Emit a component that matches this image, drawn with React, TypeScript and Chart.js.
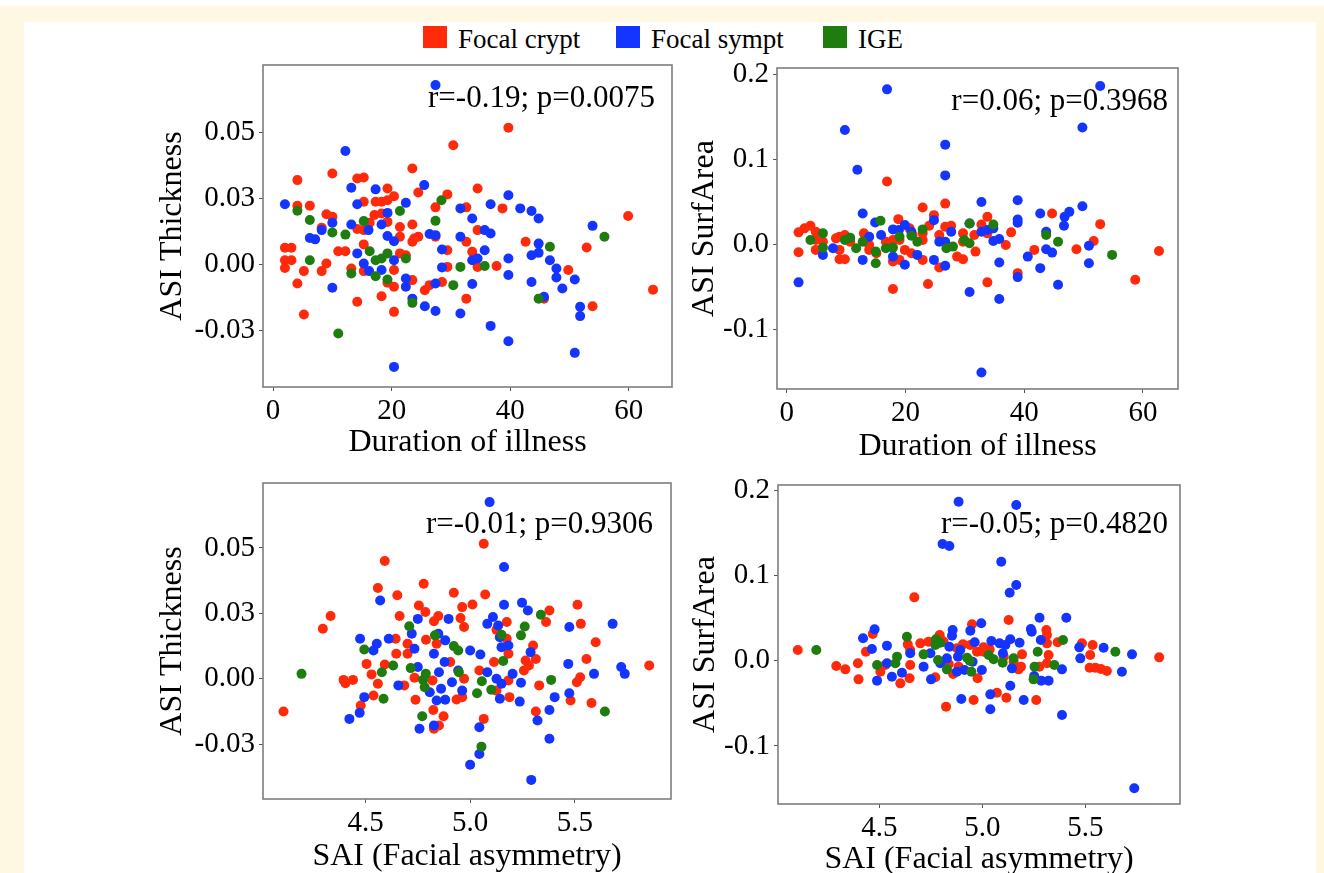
import React, { useEffect, useRef } from 'react';
import { Chart, registerables } from 'chart.js';

Chart.register(...registerables);

type Pt = [number, number];

const SERIES_NAMES = ['Focal crypt', 'Focal sympt', 'IGE'];
const SERIES_COLORS = ['#ff2a0a', '#1434ff', '#1f7d10'];
const FONT = "'Liberation Serif', 'Times New Roman', Times, serif";

// ---------- Panel 1: Duration of illness vs ASI Thickness ----------
const P1_CRYPT: Pt[] = [
  [39.7, 0.0517], [30.4, 0.0451], [23.5, 0.0363], [10.0, 0.0344], [4.1, 0.0319], [14.2, 0.0325], [15.3, 0.0329],
  [19.3, 0.0287], [24.5, 0.0272], [34.5, 0.0287], [29.4, 0.0265], [17.3, 0.0237], [18.3, 0.0237], [15.3, 0.0237],
  [20.4, 0.0258], [19.3, 0.0243], [27.4, 0.0216], [32.6, 0.0216], [38.7, 0.0212], [4.1, 0.0222], [6.2, 0.0222],
  [9.0, 0.019], [10.0, 0.018], [18.3, 0.0193], [19.3, 0.0161], [16.3, 0.0158], [21.4, 0.0142], [23.5, 0.0151],
  [8.2, 0.0139], [14.2, 0.0134], [15.3, 0.013], [21.4, 0.0105], [23.5, 0.0086], [24.5, 0.0105], [23.8, 0.0098],
  [27.4, 0.0105], [32.6, 0.0086], [33.6, 0.0048], [34.5, 0.013], [42.6, 0.0086], [52.9, 0.0064], [59.9, 0.0183],
  [64.1, -0.0095], [15.3, 0.0076], [11.0, 0.005], [12.2, 0.005], [2.0, 0.0063], [3.1, 0.0063], [2.0, 0.0016],
  [3.1, 0.0016], [2.0, -0.0013], [5.2, -0.0025], [8.2, -0.0025], [9.0, 0.0004], [4.1, -0.0072], [5.2, -0.0189],
  [13.2, -0.0015], [14.2, -0.0141], [15.3, -0.0025], [18.3, -0.012], [19.3, -0.0069], [20.4, -0.0021],
  [20.4, -0.0084], [20.4, -0.0179], [21.4, 0.0042], [22.4, 0.0035], [23.5, -0.0059], [25.6, -0.0097],
  [26.4, -0.0078], [28.5, -0.0066], [29.4, -0.0009], [29.4, 0.0054], [32.6, -0.0129], [34.5, -0.0009],
  [37.7, -0.0006], [45.7, -0.0129], [49.8, -0.0021], [53.9, -0.0158], [17.1, 0.0187],
];
const P1_SYMPT: Pt[] = [
  [27.4, 0.0678], [12.2, 0.0429], [2.0, 0.0228], [13.2, 0.029], [14.2, 0.0228], [17.3, 0.0284], [25.5, 0.030],
  [22.4, 0.0233], [19.3, 0.0195], [10.0, 0.0158], [8.2, 0.013], [6.2, 0.010], [7.1, 0.0095], [13.2, 0.0151],
  [16.1, 0.013], [18.3, 0.0151], [19.3, 0.0108], [20.4, 0.0088], [14.2, 0.0042], [15.3, 0.0004], [16.2, -0.0025],
  [18.3, -0.0021], [20.4, 0.0016], [22.4, -0.0053], [22.4, -0.0084], [23.5, -0.0129], [25.6, -0.0158],
  [27.4, -0.0176], [26.4, 0.0115], [27.4, 0.0111], [28.5, 0.0057], [28.5, -0.0011], [27.4, -0.0072],
  [31.6, 0.0212], [31.6, 0.0105], [31.6, -0.0185], [33.6, 0.0174], [33.6, 0.0016], [34.5, 0.0023],
  [33.6, -0.0074], [35.7, 0.013], [36.7, 0.0117], [35.7, 0.0054], [36.7, 0.0228], [36.7, -0.0232],
  [39.7, 0.0262], [39.7, 0.0023], [39.7, -0.004], [39.7, -0.029], [41.7, 0.0212], [43.6, 0.0202],
  [44.8, 0.0174], [43.6, 0.0035], [44.8, 0.0044], [44.8, 0.0079], [43.6, -0.0066], [45.7, -0.0122],
  [46.7, 0.0016], [47.8, -0.0015], [47.8, -0.0049], [48.8, -0.0091], [50.9, -0.0057], [51.8, -0.016],
  [51.8, -0.0195], [50.9, -0.0334], [53.9, 0.0146], [20.4, -0.0387], [10.0, -0.0088],
];
const P1_IGE: Pt[] = [
  [28.4, 0.0243], [4.1, 0.0203], [6.2, 0.0168], [21.4, 0.0202], [15.3, 0.0164], [27.4, 0.0165], [10.0, 0.0121],
  [12.2, 0.0113], [55.9, 0.0105], [46.7, 0.0067], [16.3, 0.005], [17.3, 0.0016], [18.3, 0.0023], [19.3, 0.0042],
  [22.4, 0.0023], [6.2, 0.0016], [13.2, -0.0034], [17.3, -0.0044], [19.3, -0.0057], [31.6, -0.0009],
  [35.7, -0.0006], [30.4, -0.0078], [23.5, -0.0145], [44.8, -0.0129], [11.0, -0.0261],
];

// ---------- Panel 2: Duration of illness vs ASI SurfArea ----------
const P2_CRYPT: Pt[] = [
  [16.9, 0.0742], [26.7, 0.048], [22.9, 0.0434], [44.7, 0.0363], [24.8, 0.0344], [33.8, 0.0324], [18.8, 0.0297],
  [52.8, 0.0238], [26.7, 0.0207], [27.7, 0.0219], [24.0, 0.0219], [32.8, 0.0234], [2.0, 0.0141], [3.0, 0.0188],
  [4.0, 0.0219], [4.9, 0.0148], [8.9, 0.009], [9.8, 0.0109], [13.0, 0.0129], [20.7, 0.0188], [22.9, 0.0129],
  [29.7, 0.0129], [37.8, 0.0141], [31.6, 0.0109], [33.8, 0.0129], [4.9, 0.0051], [6.1, 0.0031], [8.3, 0.007],
  [10.7, 0.0031], [13.9, -0.0008], [16.7, 0.0031], [19.0, 0.0051], [21.2, 0.0109], [22.9, 0.0051], [25.7, 0.0109],
  [29.7, 0.0031], [36.9, -0.0008], [51.7, 0.0039], [48.8, -0.0059], [41.7, -0.0066], [62.7, -0.0078],
  [2.0, -0.0094], [4.9, -0.0066], [8.9, -0.0066], [8.9, -0.0176], [9.8, -0.0176], [13.9, -0.0066],
  [15.1, -0.0105], [17.9, -0.0203], [19.0, -0.0184], [19.9, -0.0066], [21.0, -0.0105], [22.9, -0.0184],
  [25.7, -0.0273], [28.7, -0.0145], [29.7, -0.0176], [31.8, -0.0086], [38.9, -0.034], [33.8, -0.0449],
  [23.8, -0.0469], [17.9, -0.0527], [58.7, -0.0418], [17.9, 0.0051],
];
const P2_SYMPT: Pt[] = [
  [52.8, 0.1867], [16.9, 0.1828], [9.8, 0.1348], [49.8, 0.1379], [26.7, 0.1176], [11.9, 0.0879], [26.7, 0.0813],
  [32.8, 0.05], [38.9, 0.052], [49.8, 0.0449], [12.8, 0.0363], [42.7, 0.0363], [47.6, 0.0383], [46.8, 0.0324],
  [46.7, 0.0219], [38.9, 0.0293], [38.9, 0.0254], [24.8, 0.0285], [14.9, 0.0258], [13.9, 0.009], [15.9, 0.0109],
  [17.9, 0.0176], [18.9, 0.0168], [19.9, 0.0227], [21.0, 0.0148], [30.8, 0.0246], [32.8, 0.0148], [33.8, 0.0168],
  [34.8, 0.0188], [34.8, 0.0039], [35.8, 0.0063], [43.7, 0.0148], [27.7, 0.0148], [25.7, 0.0031], [26.7, 0.0031],
  [43.7, -0.0059], [44.7, -0.0098], [50.9, -0.0016], [40.6, -0.0145], [6.1, -0.0125], [7.8, -0.0047],
  [17.9, -0.0145], [19.9, -0.0242], [22.0, -0.0125], [12.8, -0.0184], [24.8, -0.0184], [26.7, -0.0254],
  [35.8, -0.0215], [42.7, -0.0281], [50.9, -0.0223], [38.9, -0.0387], [2.0, -0.0449], [45.7, -0.0477],
  [30.8, -0.0563], [35.8, -0.0645], [32.8, -0.1512],
];
const P2_IGE: Pt[] = [
  [34.8, 0.0234], [30.8, 0.0246], [15.8, 0.0277], [22.9, 0.0176], [6.1, 0.0129], [10.7, 0.0078], [9.8, 0.0051],
  [4.0, 0.0051], [12.8, 0.0031], [21.0, 0.0102], [22.0, 0.0031], [43.7, 0.0109], [45.7, 0.0031], [30.8, 0.0012],
  [29.9, 0.0051], [6.1, -0.0039], [11.7, -0.0047], [15.0, -0.0086], [16.7, -0.0047], [17.9, -0.0039],
  [19.0, 0.009], [26.9, -0.0047], [28.0, -0.0027], [15.0, -0.0223], [54.8, -0.0125],
];

// ---------- Panel 3: SAI vs ASI Thickness ----------
const P3_CRYPT: Pt[] = [
  [5.065, 0.0516], [4.592, 0.045], [4.559, 0.0347], [4.778, 0.0363], [4.652, 0.0319], [4.922, 0.0329],
  [5.072, 0.0322], [4.333, 0.024], [4.296, 0.0191], [4.755, 0.028], [4.786, 0.0255], [4.962, 0.0274],
  [5.011, 0.0284], [5.379, 0.0261], [5.513, 0.0283], [4.663, 0.024], [4.827, 0.022], [4.848, 0.024],
  [4.954, 0.0232], [5.363, 0.0217], [5.529, 0.021], [4.971, 0.0198], [5.175, 0.0217], [5.126, 0.0187],
  [4.644, 0.0153], [4.701, 0.0134], [4.789, 0.0149], [4.840, 0.0134], [5.175, 0.0153], [5.301, 0.0127],
  [5.600, 0.014], [5.556, 0.0076], [5.856, 0.0051], [4.647, 0.0096], [4.701, 0.0096], [4.505, 0.0057],
  [4.592, 0.0055], [4.529, 0.0017], [4.559, -0.0019], [4.905, 0.0064], [5.044, 0.0032], [5.114, 0.0064],
  [5.183, 0.0096], [5.265, 0.007], [5.314, 0.0076], [5.257, 0.0032], [5.281, 0.0051], [5.526, 0.0006],
  [5.510, -0.0013], [5.330, -0.0025], [5.183, -0.0006], [4.971, 0.0], [4.395, -0.0004], [4.440, -0.0004],
  [4.404, -0.0017], [4.685, -0.0025], [4.734, 0.0004], [4.820, -0.0006], [4.935, -0.0079], [4.962, -0.007],
  [4.538, -0.0064], [4.739, -0.008], [5.188, -0.007], [5.480, -0.0083], [5.580, -0.0092], [4.108, -0.0125],
  [4.477, -0.0102], [4.824, -0.0119], [4.873, -0.0143], [4.851, -0.0178], [4.827, -0.0191], [5.065, -0.0153],
  [5.314, -0.0125], [5.126, -0.0045],
];
const P3_SYMPT: Pt[] = [
  [5.093, 0.0675], [5.162, 0.0427], [4.570, 0.0299], [5.162, 0.0283], [5.248, 0.0291], [5.276, 0.0261],
  [4.750, 0.0229], [5.109, 0.0236], [5.082, 0.021], [5.134, 0.0204], [4.721, 0.0172], [4.474, 0.0153],
  [4.554, 0.0134], [4.538, 0.0108], [4.611, 0.0153], [4.734, 0.0115], [4.827, 0.0096], [4.881, 0.0147],
  [4.897, 0.0229], [4.848, 0.0172], [5.0, 0.0108], [5.049, 0.0093], [5.150, 0.0121], [5.183, 0.0127],
  [5.142, 0.0159], [5.289, 0.0102], [5.469, 0.0057], [5.681, 0.021], [5.474, 0.0198], [5.592, 0.0019],
  [5.722, 0.0045], [5.739, 0.0019], [4.750, 0.0045], [4.878, 0.0064], [4.851, 0.0025], [4.913, -0.0013],
  [4.943, 0.0032], [4.962, -0.0045], [5.082, 0.0025], [5.126, 0.0], [5.150, -0.0019], [5.203, 0.0019],
  [5.243, -0.0015], [4.657, -0.0025], [4.807, -0.0051], [4.861, -0.0038], [4.840, -0.0083], [4.881, -0.008],
  [4.494, -0.007], [4.472, -0.013], [4.423, -0.0153], [5.142, -0.0076], [5.237, -0.0087], [5.404, -0.007],
  [5.379, -0.0119], [5.474, -0.0055], [5.322, -0.0159], [5.379, -0.0229], [5.044, -0.0185], [4.827, -0.0178],
  [4.758, -0.0191], [5.044, -0.0287], [5.0, -0.0328], [5.292, -0.0386],
];
const P3_IGE: Pt[] = [
  [5.338, 0.0245], [4.709, 0.0201], [5.261, 0.02], [5.243, 0.0166], [5.150, 0.0168], [4.832, 0.0166],
  [4.494, 0.0112], [4.922, 0.0125], [4.943, 0.0108], [5.158, 0.0068], [4.632, 0.0051], [4.716, 0.0041],
  [4.578, 0.0025], [4.194, 0.0019], [4.946, 0.0025], [4.788, 0.0019], [4.775, -0.0004], [4.783, -0.0032],
  [5.056, -0.0009], [5.033, -0.0055], [5.101, -0.0042], [5.387, -0.0004], [4.586, -0.0076], [4.771, -0.0143],
  [5.644, -0.0125], [5.054, -0.0259],
];

// ---------- Panel 4: SAI vs ASI SurfArea ----------
const P4_CRYPT: Pt[] = [
  [4.670, 0.0742], [5.128, 0.0477], [4.950, 0.0426], [4.468, 0.0313], [4.793, 0.0301], [5.311, 0.0359],
  [5.314, 0.0301], [4.699, 0.0203], [4.739, 0.0223], [4.801, 0.0242], [4.812, 0.0223], [4.906, 0.0191],
  [4.942, 0.0184], [5.366, 0.0215], [5.314, 0.0203], [4.638, 0.0191], [5.484, 0.0203], [5.536, 0.0184],
  [4.104, 0.0125], [4.435, 0.0105], [4.650, 0.0125], [5.006, 0.0156], [5.036, 0.0133], [4.974, 0.0105],
  [4.877, 0.0145], [5.524, 0.0066], [5.859, 0.0039], [5.322, 0.0066], [5.193, 0.0074], [5.104, 0.0047],
  [4.291, -0.0063], [4.335, -0.0102], [4.396, -0.0031], [4.399, -0.0219], [4.505, -0.0129], [4.529, -0.0051],
  [4.602, -0.0266], [4.647, -0.0207], [4.650, -0.0051], [4.772, -0.0195], [4.885, -0.007], [4.837, -0.0039],
  [4.858, -0.0156], [4.977, -0.0207], [5.188, -0.007], [5.152, -0.0012], [5.176, -0.0102], [5.277, -0.007],
  [5.314, -0.0031], [5.521, -0.0082], [5.549, -0.0082], [5.576, -0.0098], [5.605, -0.0121], [5.071, -0.0375],
  [5.117, -0.0434], [4.958, -0.0461], [5.262, -0.0461], [4.824, -0.0539], [5.006, 0.0105],
];
const P4_SYMPT: Pt[] = [
  [4.885, 0.1863], [5.165, 0.1824], [4.807, 0.1367], [4.840, 0.1344], [5.092, 0.116], [5.165, 0.0887],
  [5.133, 0.0797], [5.278, 0.0504], [5.408, 0.0504], [4.995, 0.0438], [4.477, 0.0367], [4.421, 0.0262],
  [4.464, 0.0137], [4.537, 0.0176], [4.856, 0.0359], [4.942, 0.0352], [4.853, 0.0293], [5.236, 0.0371],
  [5.24, 0.034], [5.284, 0.0242], [5.044, 0.023], [5.084, 0.0203], [5.112, 0.0184], [5.136, 0.025],
  [5.181, 0.0211], [4.963, 0.0215], [4.840, 0.0164], [4.893, 0.0125], [4.650, 0.0086], [4.748, 0.0086],
  [4.882, 0.0047], [5.100, 0.0086], [5.471, 0.0156], [5.589, 0.0152], [5.727, 0.0074], [5.476, 0.0027],
  [4.537, -0.0031], [4.715, -0.007], [4.796, -0.0031], [4.828, 0.0027], [4.953, -0.0012], [5.144, -0.009],
  [4.998, -0.0109], [5.387, -0.0102], [5.678, -0.0129], [4.561, -0.0188], [4.610, -0.0141], [4.489, -0.0234],
  [4.751, -0.0219], [4.877, -0.0129], [4.914, -0.0109], [5.252, -0.018], [5.286, -0.0234], [5.322, -0.0234],
  [5.136, -0.0293], [5.039, -0.0395], [4.898, -0.0449], [5.201, -0.0461], [5.039, -0.057], [5.387, -0.0637],
  [5.738, -0.1496],
];
const P4_IGE: Pt[] = [
  [5.392, 0.0242], [4.634, 0.0281], [4.775, 0.025], [4.772, 0.0184], [5.646, 0.0105], [5.269, 0.0105],
  [4.194, 0.0125], [4.715, 0.0074], [4.586, 0.0047], [4.578, -0.0031], [4.489, -0.0051], [4.785, 0.0008],
  [4.926, 0.0035], [4.939, 0.0], [5.031, 0.0066], [5.055, 0.0016], [5.099, -0.0023], [5.152, 0.0027],
  [5.350, -0.0051], [5.254, -0.007], [4.828, -0.0102], [4.947, -0.0129], [5.249, -0.0219], [4.796, 0.0211],
];

// ---------- Axis ticks, labels, titles and annotations ----------
const X_TICKS_DURATION = [0, 20, 40, 60];
const X_LABELS_DURATION = ['0', '20', '40', '60'];
const X_TICKS_SAI = [4.5, 5.0, 5.5];
const X_LABELS_SAI = ['4.5', '5.0', '5.5'];
const Y_TICKS_THICK = [-0.025, 0, 0.025, 0.05];
const Y_LABELS_THICK = ['-0.03', '0.00', '0.03', '0.05'];
const Y_TICKS_SURF = [-0.1, 0, 0.1, 0.2];
const Y_LABELS_SURF = ['-0.1', '0.0', '0.1', '0.2'];

const X_TITLES = ['Duration of illness', 'Duration of illness', 'SAI (Facial asymmetry)', 'SAI (Facial asymmetry)'];
const Y_TITLES = ['ASI Thickness', 'ASI SurfArea', 'ASI Thickness', 'ASI SurfArea'];
const STATS = ['r=-0.19; p=0.0075', 'r=0.06; p=0.3968', 'r=-0.01; p=0.9306', 'r=-0.05; p=0.4820'];

interface Panel {
  data: Pt[][];
  xTicks: number[]; xLabels: string[]; xMin: number; xMax: number;
  yTicks: number[]; yLabels: string[]; yMin: number; yMax: number;
  xTitle: string; yTitle: string; stat: string;
  left: number; top: number; width: number; height: number;
  yAxisW: number; xAxisH: number; padTop: number; padRight: number;
  statDx: number; statDy: number;
}

const PANELS: Panel[] = [
  {
    data: [P1_CRYPT, P1_SYMPT, P1_IGE],
    xTicks: X_TICKS_DURATION, xLabels: X_LABELS_DURATION, xMin: -1.7, xMax: 67.3,
    yTicks: Y_TICKS_THICK, yLabels: Y_LABELS_THICK, yMin: -0.0463, yMax: 0.0754,
    xTitle: X_TITLES[0], yTitle: Y_TITLES[0], stat: STATS[0],
    left: 153, top: 40, width: 537, height: 422, yAxisW: 110, xAxisH: 75, padTop: 25, padRight: 18,
    statDx: 17, statDy: 34,
  },
  {
    data: [P2_CRYPT, P2_SYMPT, P2_IGE],
    xTicks: X_TICKS_DURATION, xLabels: X_LABELS_DURATION, xMin: -1.63, xMax: 65.9,
    yTicks: Y_TICKS_SURF, yLabels: Y_LABELS_SURF, yMin: -0.1707, yMax: 0.208,
    xTitle: X_TITLES[1], yTitle: Y_TITLES[1], stat: STATS[1],
    left: 685, top: 43, width: 511, height: 423, yAxisW: 92, xAxisH: 77, padTop: 25, padRight: 18,
    statDx: 10, statDy: 34,
  },
  {
    data: [P3_CRYPT, P3_SYMPT, P3_IGE],
    xTicks: X_TICKS_SAI, xLabels: X_LABELS_SAI, xMin: 4.01, xMax: 5.96,
    yTicks: Y_TICKS_THICK, yLabels: Y_LABELS_THICK, yMin: -0.0459, yMax: 0.0748,
    xTitle: X_TITLES[2], yTitle: Y_TITLES[2], stat: STATS[2],
    left: 153, top: 458, width: 536, height: 418, yAxisW: 110, xAxisH: 77, padTop: 25, padRight: 18,
    statDx: 18, statDy: 42,
  },
  {
    data: [P4_CRYPT, P4_SYMPT, P4_IGE],
    xTicks: X_TICKS_SAI, xLabels: X_LABELS_SAI, xMin: 4.008, xMax: 5.96,
    yTicks: Y_TICKS_SURF, yLabels: Y_LABELS_SURF, yMin: -0.168, yMax: 0.2059,
    xTitle: X_TITLES[3], yTitle: Y_TITLES[3], stat: STATS[3],
    left: 686, top: 460, width: 512, height: 419, yAxisW: 92, xAxisH: 75, padTop: 25, padRight: 18,
    statDx: 12, statDy: 40,
  },
];

const framePlugin = {
  id: 'frameNote',
  afterDatasetsDraw(chart: any, _args: any, opts: any) {
    const { ctx, chartArea: a } = chart;
    ctx.save();
    ctx.strokeStyle = '#7d7d7d';
    ctx.lineWidth = 1.6;
    ctx.strokeRect(a.left, a.top, a.right - a.left, a.bottom - a.top);
    ctx.fillStyle = '#000';
    ctx.font = `31px ${FONT}`;
    ctx.textAlign = 'right';
    ctx.textBaseline = 'middle';
    ctx.fillText(opts.text, a.right - opts.dx, a.top + opts.dy);
    ctx.restore();
  },
};

function makeAxis(ticks: number[], labels: string[], min: number, max: number, title: string, horizontal: boolean, size: number) {
  return {
    type: 'linear',
    position: horizontal ? 'bottom' : 'left',
    min,
    max,
    afterBuildTicks: (axis: any) => {
      axis.ticks = ticks.map((v) => ({ value: v }));
    },
    afterFit: (axis: any) => {
      if (horizontal) axis.height = size;
      else axis.width = size;
    },
    ticks: {
      autoSkip: false,
      maxRotation: 0,
      padding: horizontal ? 3 : 4,
      color: '#000',
      font: { family: FONT, size: 29 },
      callback: (value: number) => {
        const i = ticks.findIndex((t) => Math.abs(t - value) < 1e-9);
        return i >= 0 ? labels[i] : '';
      },
    },
    grid: { display: true, drawOnChartArea: false, drawTicks: true, tickLength: 4, color: '#555', lineWidth: 1 },
    border: { display: false },
    title: { display: true, text: title, color: '#000', padding: 0, font: { family: FONT, size: 32 } },
  };
}

function ScatterPanel({ p }: { p: Panel }) {
  const ref = useRef<HTMLCanvasElement>(null);
  useEffect(() => {
    const orders = [3, 2, 1];
    const chart = new Chart(ref.current as HTMLCanvasElement, {
      type: 'scatter',
      data: {
        datasets: p.data.map((arr, i) => ({
          label: SERIES_NAMES[i],
          data: arr.map(([x, y]) => ({ x, y })),
          backgroundColor: SERIES_COLORS[i],
          borderColor: SERIES_COLORS[i],
          borderWidth: 0,
          pointRadius: 5,
          pointHoverRadius: 5,
          order: orders[i],
        })),
      },
      options: {
        animation: false,
        responsive: false,
        maintainAspectRatio: false,
        devicePixelRatio: 1,
        layout: { padding: { top: p.padTop, right: p.padRight, left: 0, bottom: 0 } },
        plugins: {
          legend: { display: false },
          tooltip: { enabled: false },
          frameNote: { text: p.stat, dx: p.statDx, dy: p.statDy },
        } as any,
        scales: {
          x: makeAxis(p.xTicks, p.xLabels, p.xMin, p.xMax, p.xTitle, true, p.xAxisH) as any,
          y: makeAxis(p.yTicks, p.yLabels, p.yMin, p.yMax, p.yTitle, false, p.yAxisW) as any,
        },
      },
      plugins: [framePlugin],
    } as any);
    return () => chart.destroy();
  }, [p]);
  return (
    <canvas
      ref={ref}
      width={p.width}
      height={p.height}
      style={{ position: 'absolute', left: p.left, top: p.top, width: p.width, height: p.height }}
    />
  );
}

const LEGEND_LEFT = [423, 616, 823];

export default function App() {
  return (
    <div style={{ position: 'fixed', left: 0, top: 0, width: 1324, height: 873, overflow: 'hidden', background: '#ffffff' }}>
      <div style={{ position: 'absolute', left: 0, top: 6, width: 1324, height: 867, background: '#fef8e2' }} />
      <div style={{ position: 'absolute', left: 24, top: 22, width: 1292, height: 851, background: '#ffffff' }} />
      {SERIES_NAMES.map((name, i) => (
        <div
          key={name}
          style={{ position: 'absolute', left: LEGEND_LEFT[i], top: 26, height: 22, display: 'flex', alignItems: 'center' }}
        >
          <div style={{ width: 24, height: 22, background: SERIES_COLORS[i] }} />
          <span
            style={{
              marginLeft: 11,
              fontFamily: FONT,
              fontSize: 27,
              lineHeight: '22px',
              color: '#000',
              position: 'relative',
              top: 2,
              whiteSpace: 'nowrap',
            }}
          >
            {name}
          </span>
        </div>
      ))}
      {PANELS.map((p, i) => (
        <ScatterPanel key={i} p={p} />
      ))}
    </div>
  );
}
